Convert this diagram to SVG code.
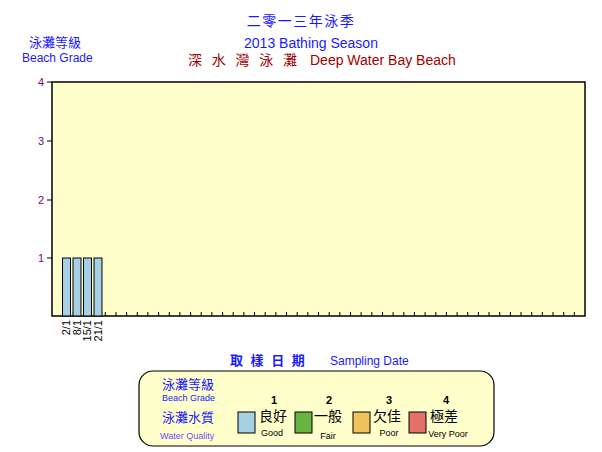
<svg xmlns="http://www.w3.org/2000/svg" width="602" height="452" viewBox="0 0 602 452">
<style>
text{font-family:"Liberation Sans","Noto Sans CJK TC",sans-serif}
.b{fill:#1a1aff}
.bar{stroke:#000;stroke-width:1}
.tk{stroke:#000;stroke-width:1}
.xl{font-size:11px;fill:#000}
.yl{font-size:11px;fill:#800080}
</style>
<rect width="602" height="452" fill="#fff"/>
<g id="titles">
<text x="301" y="26" text-anchor="middle" class="b" font-size="14" letter-spacing="1.5">二零一三年泳季</text>
<text x="311" y="48" text-anchor="middle" class="b" font-size="14">2013 Bathing Season</text>
<text x="188" y="65" font-size="14" fill="#a00000" textLength="109" lengthAdjust="spacing">深 水 灣 泳 灘</text>
<text x="310" y="65" font-size="14" fill="#a00000">Deep Water Bay Beach</text>
<text x="29" y="47" class="b" font-size="13">泳灘等級</text>
<text x="22" y="62" class="b" font-size="12">Beach Grade</text>
</g>
<g id="plot">
<rect x="52" y="82" width="533" height="234" fill="#ffffcc" stroke="#000" stroke-width="1.5"/>
<g class="tk">
<line x1="47" y1="82" x2="52" y2="82"/><line x1="47" y1="141" x2="52" y2="141"/><line x1="47" y1="200" x2="52" y2="200"/><line x1="47" y1="258" x2="52" y2="258"/>
</g>
<text x="38" y="86" class="yl">4</text><text x="38" y="145" class="yl">3</text><text x="38" y="204" class="yl">2</text><text x="38" y="262" class="yl">1</text>
<path id="xticks" stroke="#000" d="M62.7 316v-4M73.3 316v-4M84 316v-4M94.6 316v-4M105.3 316v-4M116 316v-4M126.6 316v-4M137.3 316v-4M147.9 316v-4M158.6 316v-4M169.3 316v-4M179.9 316v-4M190.6 316v-4M201.2 316v-4M211.9 316v-4M222.6 316v-4M233.2 316v-4M243.9 316v-4M254.5 316v-4M265.2 316v-4M275.9 316v-4M286.5 316v-4M297.2 316v-4M307.8 316v-4M318.5 316v-4M329.2 316v-4M339.8 316v-4M350.5 316v-4M361.1 316v-4M371.8 316v-4M382.5 316v-4M393.1 316v-4M403.8 316v-4M414.4 316v-4M425.1 316v-4M435.8 316v-4M446.4 316v-4M457.1 316v-4M467.7 316v-4M478.4 316v-4M489 316v-4M499.7 316v-4M510.4 316v-4M521 316v-4M531.7 316v-4M542.3 316v-4M553 316v-4M563.7 316v-4M574.3 316v-4"/>
</g>
<g id="bars" fill="#a6d0e4" class="bar">
<rect x="62.5" y="258" width="8" height="58"/>
<rect x="73" y="258" width="8" height="58"/>
<rect x="83.5" y="258" width="8" height="58"/>
<rect x="94" y="258" width="8" height="58"/>
</g>
<g id="xlabels" class="xl">
<text transform="translate(70,320) rotate(-90)" text-anchor="end">2/1</text>
<text transform="translate(80.5,320) rotate(-90)" text-anchor="end">8/1</text>
<text transform="translate(91,320) rotate(-90)" text-anchor="end">15/1</text>
<text transform="translate(101.5,320) rotate(-90)" text-anchor="end">21/1</text>
</g>
<text x="230" y="365" class="b" font-size="13" font-weight="bold" letter-spacing="2">取 樣 日 期</text>
<text x="330" y="365" class="b" font-size="12">Sampling Date</text>
<g id="legend">
<rect x="139" y="371" width="355" height="75" rx="14" fill="#ffffcc" stroke="#000" stroke-width="1.2"/>
<text x="162" y="389" class="b" font-size="13">泳灘等級</text>
<text x="162" y="401" class="b" font-size="9">Beach Grade</text>
<text x="162" y="422" class="b" font-size="13">泳灘水質</text>
<text x="160" y="439" fill="#6a4cff" font-size="9">Water Quality</text>
<g font-size="11" font-weight="bold" text-anchor="middle"><text x="274" y="404">1</text><text x="329" y="404">2</text><text x="389" y="404">3</text><text x="446" y="404">4</text></g>
<g stroke="#000" stroke-width="1"><rect x="238" y="412" width="17" height="21" fill="#a6d0e4"/><rect x="295" y="412" width="17" height="21" fill="#6ab444"/><rect x="353" y="412" width="17" height="21" fill="#f0c45c"/><rect x="409" y="412" width="17" height="21" fill="#e4706a"/></g>
<g font-size="14"><text x="259" y="421">良好</text><text x="314" y="421">一般</text><text x="373" y="421">欠佳</text><text x="430" y="421">極差</text></g>
<g font-size="9" text-anchor="middle"><text x="272" y="436">Good</text><text x="328" y="439">Fair</text><text x="389" y="436">Poor</text><text x="448" y="437">Very Poor</text></g>
</g>
</svg>
